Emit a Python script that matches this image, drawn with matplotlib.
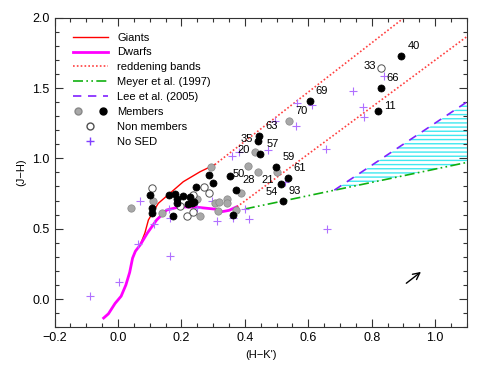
import matplotlib
matplotlib.use("Agg")
import matplotlib.pyplot as plt
from matplotlib.legend_handler import HandlerTuple
from matplotlib.lines import Line2D
import numpy as np

plt.rcParams['font.family'] = ['Liberation Sans', 'DejaVu Sans']

# Intrinsic loci
dwarf_x = [-0.045, -0.03, -0.009, 0.010, 0.025, 0.037, 0.046, 0.055, 0.07, 0.093, 0.122, 0.154, 0.196, 0.259, 0.31, 0.328, 0.35, 0.375]
dwarf_y = [-0.135, -0.105, -0.031, 0.02, 0.10, 0.19, 0.29, 0.34, 0.384, 0.47, 0.562, 0.633, 0.656, 0.65, 0.638, 0.621, 0.63, 0.656]
giant_x = [0.07, 0.085, 0.096, 0.127, 0.164, 0.206, 0.259, 0.305]
giant_y = [0.384, 0.47, 0.562, 0.68, 0.752, 0.834, 0.905, 0.955]

# Reddening bands (start point, slope)
band_upper = (0.305, 0.955, 1.75)
band_lower = (0.375, 0.655, 1.67)
# Meyer et al. (1997) CTTS locus
meyer_x = [0.40, 1.10]
meyer_y = [0.64, 0.971]
# Lee et al. (2005)
lee_x = [0.682, 1.10]
lee_y = [0.774, 1.401]

# Members (grey = one class, black = the other)
black_x = [0.101, 0.106, 0.106, 0.162, 0.180, 0.204, 0.185, 0.187, 0.227, 0.233, 0.222, 0.240, 0.175, 0.245, 0.288, 0.301, 0.352, 0.373, 0.364, 0.499, 0.535, 0.515, 0.520, 0.449, 0.440, 0.445, 0.604, 0.828, 0.820, 0.893]
black_y = [0.737, 0.645, 0.609, 0.740, 0.747, 0.733, 0.709, 0.685, 0.723, 0.685, 0.676, 0.690, 0.590, 0.799, 0.882, 0.827, 0.877, 0.772, 0.600, 0.941, 0.858, 0.818, 0.700, 1.029, 1.124, 1.159, 1.405, 1.503, 1.337, 1.728]
grey_x = [0.041, 0.112, 0.140, 0.249, 0.259, 0.294, 0.306, 0.320, 0.343, 0.343, 0.315, 0.373, 0.388, 0.410, 0.441, 0.501, 0.431, 0.540]
grey_y = [0.645, 0.699, 0.609, 0.709, 0.590, 0.941, 0.681, 0.688, 0.712, 0.685, 0.628, 0.633, 0.756, 0.946, 0.903, 0.901, 1.043, 1.266]
open_x = [0.106, 0.272, 0.288, 0.236, 0.217, 0.238, 0.196, 0.828]
open_y = [0.787, 0.794, 0.752, 0.740, 0.590, 0.621, 0.661, 1.645]
nosed_x = [-0.087, 0.002, 0.062, 0.163, 0.071, 0.160, 0.163, 0.115, 0.311, 0.295, 0.364, 0.414, 0.401, 0.361, 0.382, 0.474, 0.495, 0.565, 0.613, 0.562, 0.656, 0.740, 0.771, 0.776, 0.837, 0.659, 0.528, 0.249]
nosed_y = [0.021, 0.119, 0.394, 0.306, 0.695, 0.640, 0.576, 0.532, 0.553, 0.695, 0.578, 0.568, 0.643, 1.017, 1.045, 1.060, 1.268, 1.392, 1.380, 1.230, 1.065, 1.478, 1.368, 1.292, 1.587, 0.498, 0.834, 0.649]

# Labels: text, x, y, side
lab_text = ['40', '33', '66', '11', '69', '70', '63', '35', '20', '57', '59', '61', '50', '28', '21', '54', '93']
lab_x = [0.893, 0.828, 0.828, 0.820, 0.604, 0.540, 0.445, 0.440, 0.431, 0.449, 0.499, 0.535, 0.410, 0.441, 0.501, 0.515, 0.520]
lab_y = [1.728, 1.645, 1.503, 1.337, 1.405, 1.266, 1.159, 1.124, 1.043, 1.029, 0.941, 0.858, 0.946, 0.903, 0.901, 0.818, 0.700]
lab_pos = ['ur', 'l', 'ur', 'r', 'ur', 'ur', 'ur', 'l', 'l', 'ur', 'ur', 'ur', 'll', 'll', 'll', 'll', 'ur']

# Reddening vector
arrow_start = (0.902, 0.10)
arrow_end = (0.962, 0.205)

fig = plt.figure(figsize=(4.91, 3.68), dpi=100)
ax = fig.add_axes([0.111, 0.111, 0.840, 0.841])
ax.set_xlim(-0.2, 1.1)
ax.set_ylim(-0.2, 2.0)

# hatched region between Meyer and Lee
hx = np.linspace(lee_x[0], 1.1, 50)
hy_top = np.interp(hx, lee_x, lee_y)
hy_bot = np.interp(hx, meyer_x, meyer_y)
ax.fill_between(hx, hy_bot, hy_top, facecolor='none', edgecolor='#40e8f0', hatch='----', linewidth=0, zorder=1)

l_g, = ax.plot(giant_x, giant_y, color='red', lw=1.0, zorder=2)
l_d, = ax.plot(dwarf_x, dwarf_y, color='magenta', lw=2.0, zorder=2)
for (x0, y0, s) in [band_upper, band_lower]:
    bx = np.array([x0, 1.2])
    ax.plot(bx, y0 + s * (bx - x0), color='#ff4040', lw=1.2, ls=(0, (1, 1.3)), zorder=2)
l_m, = ax.plot(meyer_x, meyer_y, color='#10b010', lw=1.2, ls=(0, (6, 2, 1, 2, 1, 2)), zorder=2)
l_l, = ax.plot(lee_x, lee_y, color='#8020ff', lw=1.2, ls=(0, (5, 4)), zorder=2)

ax.scatter(nosed_x, nosed_y, marker='+', s=40, color='#b070ff', linewidths=0.8, zorder=3)
ax.scatter(grey_x, grey_y, s=28, facecolor='#a8a8a8', edgecolor='#888888', linewidths=0.5, zorder=4)
ax.scatter(black_x, black_y, s=26, facecolor='black', edgecolor='black', linewidths=0.5, zorder=5)
ax.scatter(open_x, open_y, s=28, facecolor='white', edgecolor='#505050', linewidths=0.7, zorder=4)

offs = {'ur': (6, 5, 'left', 'bottom'), 'r': (6, 0, 'left', 'bottom'), 'l': (-5, -3, 'right', 'bottom'),
        'll': (-3, -3, 'right', 'top')}
for t, x, y, p in zip(lab_text, lab_x, lab_y, lab_pos):
    dx, dy, ha, va = offs[p]
    ax.annotate(t, (x, y), xytext=(dx, dy), textcoords='offset pixels', ha=ha, va=va, fontsize=8, zorder=6)

ax.annotate('', xy=arrow_end, xytext=arrow_start,
            arrowprops=dict(arrowstyle='->', color='black', lw=1.0, mutation_scale=12))

ax.set_xticks(np.arange(-0.2, 1.01, 0.2))
ax.set_xticks(np.arange(-0.2, 1.101, 0.05), minor=True)
ax.set_yticks(np.arange(0.0, 2.01, 0.5))
ax.set_yticks(np.arange(-0.2, 2.001, 0.1), minor=True)
ax.set_xticklabels(['\u22120.2', '0.0', '0.2', '0.4', '0.6', '0.8', '1.0'])
ax.tick_params(which='both', direction='in', top=True, right=True, labelsize=9, color='#333333')
ax.tick_params(which='major', length=6, width=0.8)
ax.tick_params(which='minor', length=3, width=0.8)
for sp in ax.spines.values():
    sp.set_color('#333333')
ax.set_xlabel("(H\u2212K')", fontsize=8)
ax.set_ylabel("(J\u2212H)", fontsize=8)

handles = [l_g, l_d, Line2D([], [], color='#ff4040', lw=1.2, ls=(0, (1, 1.3))), l_m, l_l,
           (Line2D([], [], ls='', marker='o', ms=5, mfc='#a8a8a8', mec='#888888'),
            Line2D([], [], ls='', marker='o', ms=5, mfc='black', mec='black')),
           Line2D([], [], ls='', marker='o', ms=5, mfc='white', mec='#505050'),
           Line2D([], [], ls='', marker='+', ms=6, color='#8040ff')]
labels = ['Giants', 'Dwarfs', 'reddening bands', 'Meyer et al. (1997)', 'Lee et al. (2005)',
          'Members', 'Non members', 'No SED']
ax.legend(handles, labels, loc='upper left', bbox_to_anchor=(0.044, 0.952), frameon=False,
          fontsize=8, handlelength=3.2, handletextpad=0.8, labelspacing=0.44,
          borderaxespad=0.0, borderpad=0.0,
          handler_map={tuple: HandlerTuple(ndivide=None, pad=1.2)})

fig.savefig('out.png', dpi=100)
